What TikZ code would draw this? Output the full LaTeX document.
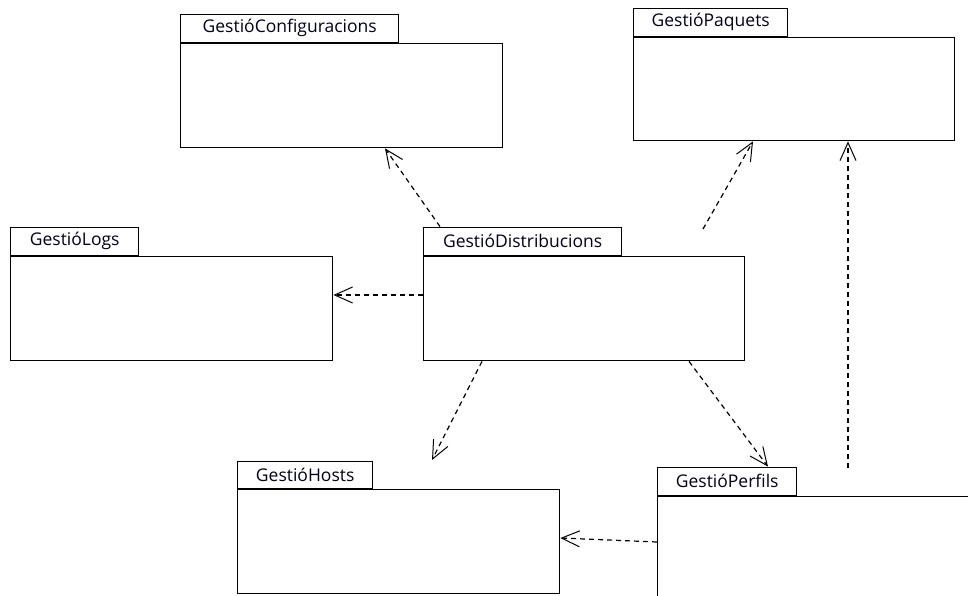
\documentclass[tikz,border=0pt]{standalone}
\usepackage{fontspec}
\setmainfont{Open Sans}
\usetikzlibrary{arrows.meta,calc}

\begin{document}
\begin{tikzpicture}[x=1pt,y=-1pt,
  pkgbody/.style={draw, line width=1.4pt, anchor=north west, inner sep=0pt},
  pkgtab/.style={draw, line width=1.4pt, anchor=south west, inner sep=0pt,
    minimum height=28pt, font=\fontsize{17.5}{19}\selectfont, text=black!90!blue},
  dep/.style={line width=1.2pt, dash pattern=on 5pt off 4pt,
    -{Straight Barb[length=18pt,width=16pt,line width=1pt]}}
]
\useasboundingbox (0,0) rectangle (968,596);
\clip (0,0) rectangle (968,596);

% packages: body rectangle with a name tab on top
\node[pkgbody, minimum width=322pt, minimum height=104pt] (conf) at (180,43) {};
\node[pkgtab, minimum width=218pt] (confT) at (conf.north west) {GestióConfiguracions};

\node[pkgbody, minimum width=321pt, minimum height=103pt] (paq) at (633,37) {};
\node[pkgtab, minimum width=154pt] (paqT) at (paq.north west) {GestióPaquets};

\node[pkgbody, minimum width=322pt, minimum height=104pt] (logs) at (10,256) {};
\node[pkgtab, minimum width=128pt] (logsT) at (logs.north west) {GestióLogs};

\node[pkgbody, minimum width=321pt, minimum height=104pt] (dist) at (423,256) {};
\node[pkgtab, minimum width=198pt] (distT) at (dist.north west) {GestióDistribucions};

\node[pkgbody, minimum width=322pt, minimum height=104pt] (hosts) at (237,489) {};
\node[pkgtab, minimum width=135pt, minimum height=27pt] (hostsT) at (hosts.north west) {GestióHosts};

\node[pkgbody, minimum width=330pt, minimum height=130pt] (perf) at (657,496) {};
\node[pkgtab, minimum width=139pt] (perfT) at (perf.north west) {GestióPerfils};

% loose ends of some dependencies
\coordinate (distPaq) at (703,229);
\coordinate (distHosts) at (432,460);
\coordinate (perfPaq) at (848,468);

% dependencies
\draw[dep] ($(distT.north west)+(17,0)$) -- ($(conf.south west)+(205,0)$);
\draw[dep] (distPaq) -- ($(paq.south west)+(120,0)$);
\draw[dep] ($(dist.north west)+(0,39)$) -- ($(logs.north east)+(0,39)$);
\draw[dep] ($(dist.south west)+(59,0)$) -- (distHosts);
\draw[dep] ($(dist.south west)+(266,0)$) -- ($(perfT.north west)+(111,0)$);
\draw[dep] ($(perf.north west)+(0,46)$) -- ($(hosts.north east)+(0,49)$);
\draw[dep] (perfPaq) -- ($(paq.south west)+(215,0)$);
\end{tikzpicture}
\end{document}
